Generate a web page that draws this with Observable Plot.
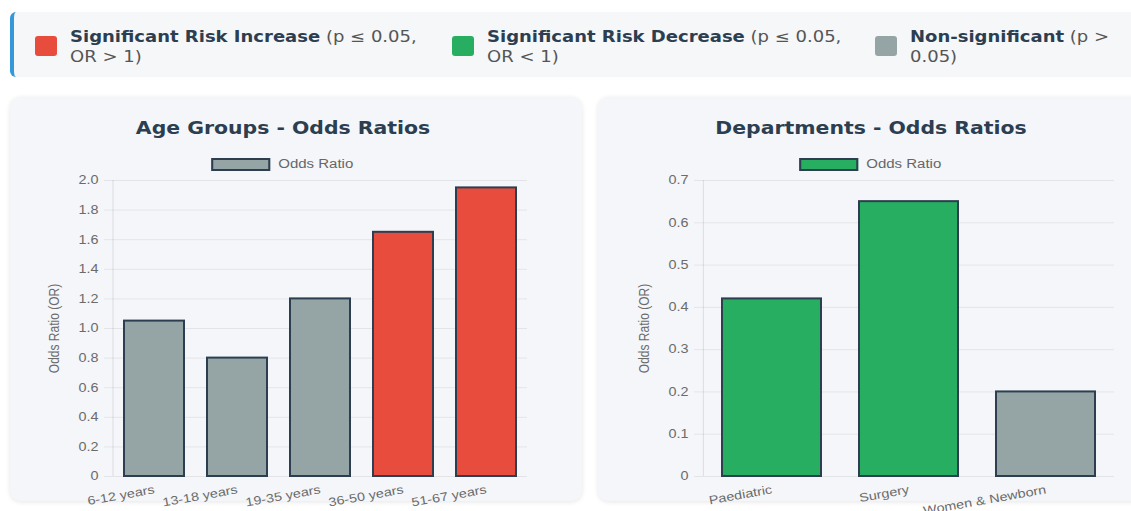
<!DOCTYPE html>
<html><head><meta charset="utf-8">
<script src="https://cdn.jsdelivr.net/npm/d3@7"></script>
<script src="https://cdn.jsdelivr.net/npm/@observablehq/plot@0.6"></script>
<style>
html,body{margin:0;padding:0;background:#fff;width:1131px;height:511px;overflow:hidden;font-family:"DejaVu Sans",sans-serif;}
#legend{position:absolute;left:10px;top:12px;width:1150px;height:65px;background:#f5f7f9;border-left:4px solid #3498db;border-radius:6px;box-sizing:border-box;}
.item{position:absolute;top:15px;font-size:15px;line-height:20px;color:#555;transform:scaleX(1.2);transform-origin:0 0;white-space:nowrap;}
.item b{color:#2c3e50;}
.sw{position:absolute;top:24px;width:22px;height:20px;border-radius:3px;}
.card{position:absolute;top:97px;height:404px;background:#f4f6f9;border-radius:10px;box-shadow:0 1px 5px rgba(0,0,0,0.10);}
.card svg{position:absolute;left:0;top:0;overflow:visible;}
.title{position:absolute;top:118px;font-size:17px;font-weight:bold;color:#2c3e50;transform:translateX(-50%) scaleX(1.2);white-space:nowrap;}
.lg{position:absolute;top:157px;font-family:"Liberation Sans",Arial,sans-serif;font-size:12.5px;color:#666;transform:translateX(-50%);white-space:nowrap;display:flex;align-items:center;}
.lg span.box{display:inline-block;width:55px;height:9px;border:2px solid #2c3e50;margin-right:8px;}
.lg span.txt{display:inline-block;transform:scaleX(1.2);transform-origin:0 50%;margin-right:14px;}
</style>
</head>
<body>
<div id="legend"></div>
<div id="cards"></div>
<script>
// ---- data ----
const ageGroups = ["6-12 years", "13-18 years", "19-35 years", "36-50 years", "51-67 years"];
const ageOddsRatios = [1.05, 0.80, 1.20, 1.65, 1.95];
const ageSignificance = ["ns", "ns", "ns", "increase", "increase"];
const ageTicks = [0, 0.2, 0.4, 0.6, 0.8, 1.0, 1.2, 1.4, 1.6, 1.8, 2.0];

const departments = ["Paediatric", "Surgery", "Women & Newborn"];
const deptOddsRatios = [0.42, 0.65, 0.20];
const deptSignificance = ["decrease", "decrease", "ns"];
const deptTicks = [0, 0.1, 0.2, 0.3, 0.4, 0.5, 0.6, 0.7];

const sigKeys = ["increase", "decrease", "ns"];
const sigColors = ["#e74c3c", "#27ae60", "#95a5a6"];
const sigBold = ["Significant Risk Increase", "Significant Risk Decrease", "Non-significant"];
const sigRest = [" (p ≤ 0.05,<br>OR > 1)", " (p ≤ 0.05,<br>OR < 1)", " (p ><br>0.05)"];

const chartTitles = ["Age Groups - Odds Ratios", "Departments - Odds Ratios"];
const seriesName = "Odds Ratio";
const yLabel = "Odds Ratio (OR)";

const STRETCH = 1.2;

// ---- top legend ----
const legend = document.getElementById("legend");
const swX = [21, 438, 861];
sigKeys.forEach((k, i) => {
  const sw = document.createElement("div");
  sw.className = "sw";
  sw.style.left = swX[i] + "px";
  sw.style.background = sigColors[i];
  legend.appendChild(sw);
  const it = document.createElement("div");
  it.className = "item";
  it.style.left = (swX[i] + 35) + "px";
  it.innerHTML = "<b>" + sigBold[i] + "</b>" + sigRest[i];
  legend.appendChild(it);
});

// widen svg text glyphs to the reference's look
function stretchText(svg, k) {
  svg.querySelectorAll("text").forEach(t => {
    let tr = t.getAttribute("transform") || "";
    const x = t.getAttribute("x"), y = t.getAttribute("y");
    const yNum = y !== null && !isNaN(+y);
    if (x !== null || yNum) {
      tr += ` translate(${x !== null ? x : 0},${yNum ? y : 0})`;
      t.removeAttribute("x");
      if (yNum) t.removeAttribute("y");
    }
    tr += /rotate\(-90\)/.test(tr) ? ` scale(1,${k})` : ` scale(${k},1)`;
    t.setAttribute("transform", tr.trim());
  });
}

// ---- charts ----
function barChart(cats, vals, sig, ticks, opts) {
  const data = cats.map((c, i) => ({cat: c, or: vals[i], sig: sig[i]}));
  const step = (opts.width - opts.ml - opts.mr) / cats.length;
  const ymax = ticks[ticks.length - 1];
  const svg = Plot.plot({
    width: opts.width, height: opts.height,
    marginLeft: opts.ml, marginRight: opts.mr, marginTop: opts.mt, marginBottom: opts.mb,
    style: {background: "transparent", fontFamily: "'Liberation Sans', Arial, sans-serif", fontSize: "12px", color: "#6b6b6b", overflow: "visible"},
    x: {domain: cats, paddingInner: 0.28, paddingOuter: 0.14, label: null},
    y: {domain: [0, ymax], label: null},
    color: {domain: sigKeys, range: sigColors},
    marks: [
      Plot.gridY(ticks, {stroke: "#000", strokeOpacity: 0.07, strokeWidth: 1}),
      Plot.ruleX([cats[0]], {y1: 0, y2: ymax, dx: -step / 2, stroke: "#000", strokeOpacity: 0.1}),
      Plot.barY(data, {x: "cat", y: "or", fill: "sig", stroke: "#2c3e50", strokeWidth: 2}),
      Plot.axisY(ticks, {
        tickFormat: d => d === 0 ? "0" : d.toFixed(1),
        tickSize: 8, tickPadding: 6, stroke: "#000", strokeOpacity: 0.07,
        label: yLabel, labelAnchor: "center", labelArrow: "none", labelOffset: 64,
        fontSize: 12
      }),
      Plot.axisX({tickRotate: -10, tickSize: 0, tickPadding: 13, label: null, fontSize: 12})
    ]
  });
  stretchText(svg, STRETCH);
  return svg;
}

const cardsEl = document.getElementById("cards");
const cardDefs = [
  {left: 10, width: 572, cats: ageGroups, vals: ageOddsRatios, sig: ageSignificance, ticks: ageTicks, ml: 102, mr: 55, center: 283, color: sigColors[2]},
  {left: 598, width: 560, cats: departments, vals: deptOddsRatios, sig: deptSignificance, ticks: deptTicks, ml: 104, mr: 44, center: 871, color: sigColors[1]}
];
cardDefs.forEach((d, i) => {
  const card = document.createElement("div");
  card.className = "card";
  card.style.left = d.left + "px";
  card.style.width = d.width + "px";
  card.appendChild(barChart(d.cats, d.vals, d.sig, d.ticks, {width: d.width, height: 410, ml: d.ml, mr: d.mr, mt: 83, mb: 31}));
  cardsEl.appendChild(card);
  const t = document.createElement("div");
  t.className = "title";
  t.style.left = d.center + "px";
  t.textContent = chartTitles[i];
  document.body.appendChild(t);
  const lg = document.createElement("div");
  lg.className = "lg";
  lg.style.left = d.center + "px";
  lg.innerHTML = '<span class="box" style="background:' + d.color + '"></span><span class="txt">' + seriesName + '</span>';
  document.body.appendChild(lg);
});
</script>
</body></html>
